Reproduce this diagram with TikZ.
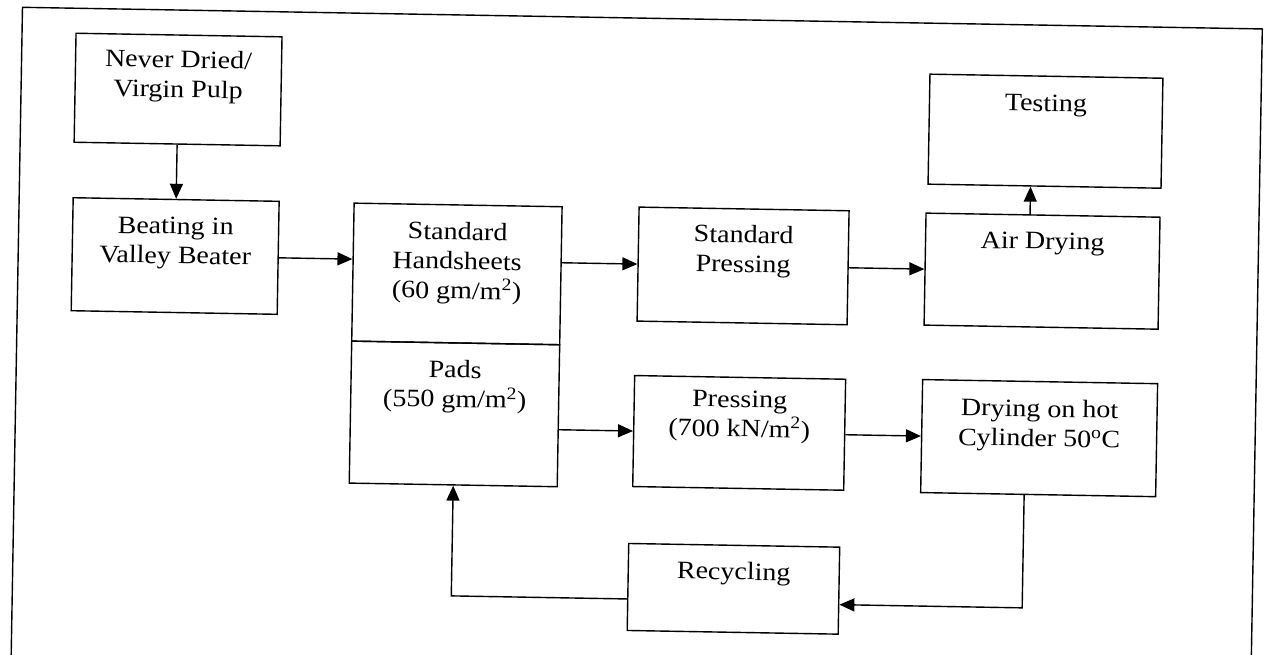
\documentclass[tikz,border=0pt]{standalone}
\usepackage{fontspec}
\setmainfont{Liberation Serif}[FakeStretch=1.12]
\usetikzlibrary{arrows.meta}
\begin{document}
\begin{tikzpicture}[x=1pt,y=-1pt,
  box/.style={draw, line width=1.4pt, inner sep=0pt},
  txt/.style={anchor=north, inner sep=0pt, align=center, font=\fontsize{25}{29.5}\selectfont},
  conn/.style={line width=1.4pt},
  arr/.style={conn, -{Triangle[length=15pt,width=13pt]}},
  frame/.style={line width=1.4pt}]
\useasboundingbox (0,0) rectangle (1265,655);
\clip (0,0) rectangle (1265,655);
\begin{scope}[rotate around={-1:(632,327)}, transform shape]
  % outer frame (open at the bottom)
  \draw[frame] (17,720) -- (17,18) -- (1257,18) -- (1257,720);

  % boxes
  \node[box, minimum width=206pt, minimum height=109pt] (never) at (174,97.5) {};
  \node[box, minimum width=206pt, minimum height=113pt] (beat)  at (174,264) {};
  \node[box, minimum width=208pt, minimum height=138pt] (hand)  at (456,277) {};
  \node[box, minimum width=208pt, minimum height=142pt] (pads)  at (456,417) {};
  \node[box, minimum width=210pt, minimum height=114pt] (sp)    at (742,264) {};
  \node[box, minimum width=234pt, minimum height=112pt] (ad)    at (1041,264) {};
  \node[box, minimum width=233pt, minimum height=110pt] (test)  at (1042,124) {};
  \node[box, minimum width=211pt, minimum height=111pt] (press) at (741,431) {};
  \node[box, minimum width=235pt, minimum height=113pt] (dry)   at (1041,431) {};
  \node[box, minimum width=211pt, minimum height=87pt]  (rec)   at (738,587) {};

  % texts
  \node[txt] (never-t) at ([yshift=-16pt]never.north) {Never Dried/\\Virgin Pulp};
  \node[txt] (beat-t)  at ([yshift=-18.5pt]beat.north) {Beating in\\Valley Beater};
  \node[txt] (hand-t)  at ([yshift=-18pt]hand.north) {Standard\\Handsheets\\(60 gm/m\textsuperscript{2})};
  \node[txt] (pads-t)  at ([yshift=-18pt]pads.north) {Pads\\(550 gm/m\textsuperscript{2})};
  \node[txt] (sp-t)    at ([yshift=-17pt]sp.north) {Standard\\Pressing};
  \node[txt] (ad-t)    at ([yshift=-18pt]ad.north) {Air Drying};
  \node[txt] (test-t)  at ([yshift=-19pt]test.north) {Testing};
  \node[txt] (press-t) at ([yshift=-14pt]press.north) {Pressing\\(700 kN/m\textsuperscript{2})};
  \node[txt] (dry-t)   at ([yshift=-18.5pt]dry.north) {Drying on hot\\Cylinder 50\textsuperscript{o}C};
  \node[txt] (rec-t)   at ([yshift=-17.5pt]rec.north) {Recycling};

  % connectors
  \draw[arr] (never.south) -- (beat.north);
  \draw[arr] (beat.east) -- (beat.east -| hand.west);
  \draw[arr] (beat.east -| hand.east) -- (sp.west);
  \draw[arr] (sp.east) -- (ad.west);
  \draw[arr] ([xshift=-13pt]ad.north) -- ([xshift=-13pt]ad.north |- test.south);
  \draw[arr] (pads.east |- press.west) -- (press.west);
  \draw[arr] (press.east) -- (dry.west);
  \draw[arr] ([xshift=-14pt]dry.south) |- ([yshift=-14pt]rec.east);
  \draw[arr] ([yshift=-12pt]rec.west) -| (pads.south);
\end{scope}
\end{tikzpicture}
\end{document}
